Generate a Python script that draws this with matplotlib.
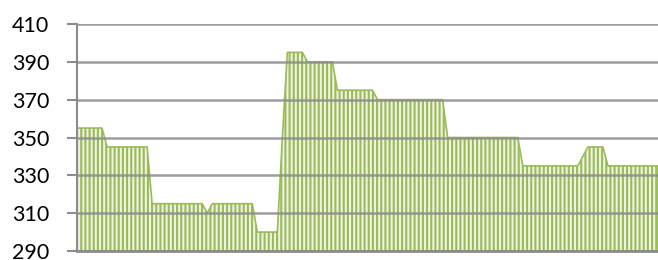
import matplotlib
matplotlib.use("Agg")
import matplotlib.pyplot as plt
import numpy as np

# Values (run-length groups of points)
levels = [355, 345, 315, 310, 315, 300, 350, 395, 390, 375, 370, 350, 335, 340, 345, 335]
counts = [6,   9,   11,  1,   9,   5,   1,   4,   6,   8,   14,  15,  12,  1,   4,   11]
values = np.repeat(levels, counts)
y_ticks = [290, 310, 330, 350, 370, 390, 410]

plt.rcParams['hatch.linewidth'] = 1.5
fig = plt.figure(figsize=(6.58, 2.60), dpi=100)
ax = fig.add_axes([77/658, 1-251/260, 1-77/658, (251-24)/260])

x = np.arange(len(values))
ax.fill_between(x, values, 290, facecolor='#eef3e2', edgecolor='#9bbb59',
                hatch='||||', linewidth=1.2, zorder=3)

ax.set_xlim(0, len(values) - 1)
ax.set_ylim(290, 410)
ax.set_yticks(y_ticks)
ax.set_yticklabels([str(t) for t in y_ticks], fontsize=15.5, family='Lato', color='#000000')
ax.set_xticks([])
for yv in y_ticks:
    ax.axhline(yv, color='#8c8c8c', linewidth=1.8, alpha=0.85, zorder=4)
for s in ['top', 'right']:
    ax.spines[s].set_visible(False)
ax.spines['left'].set_color('#8c8c8c')
ax.spines['left'].set_linewidth(1.5)
ax.spines['left'].set_zorder(5)
ax.spines['bottom'].set_color('#8c8c8c')
ax.spines['bottom'].set_linewidth(2.0)
ax.spines['bottom'].set_zorder(5)
ax.tick_params(axis='y', length=7, width=1.5, color='#8c8c8c', pad=13)
ax.set_facecolor('white')

fig.savefig('out.png', dpi=100)
